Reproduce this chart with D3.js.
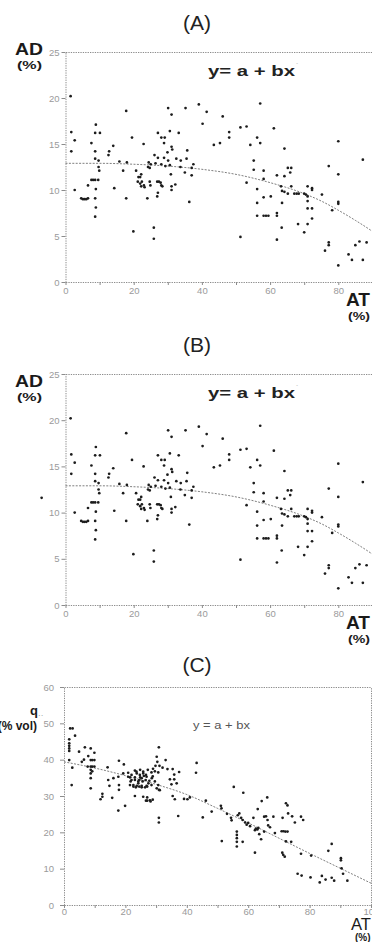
<!DOCTYPE html>
<html>
<head>
<meta charset="utf-8">
<script src="https://cdn.jsdelivr.net/npm/d3@7"></script>
<style>
  html, body { margin: 0; padding: 0; background: #fff; }
  body { width: 372px; height: 942px; overflow: hidden; }
  svg { display: block; font-family: "Liberation Sans", Arial, sans-serif; }
</style>
</head>
<body>
<svg id="chart" width="372" height="942"></svg>
<script>
// AT (%) vs AD (%) -- same cloud in panels A and B
const adPoints = [
  [1.5,20.2],[17.8,18.6],[30.1,18.9],[35.2,18.9],[39.1,19.3],[41.4,18.5],[31.1,18.2],
  [8.9,17.1],[8.7,16.2],[10.1,16.2],[1.7,16.3],[40.2,17.2],[27.1,16.2],[30.6,16.4],[33.2,16.2],
  [2.7,15.4],[7.6,15.1],[14.0,14.8],[19.5,15.7],[22.9,15.0],[28.1,15.7],[29.1,15.7],[28.9,15.1],[31.1,14.7],[31.3,14.4],[35.7,14.3],
  [1.7,14.2],[8.7,14.2],[12.8,14.2],[12.6,13.8],[26.1,13.8],[27.1,13.5],[28.9,13.5],[29.9,14.1],[32.5,13.4],[33.8,13.2],[35.5,13.4],[8.7,13.4],
  [9.7,13.2],[15.8,13.1],[18.0,13.0],[24.4,13.0],[24.2,12.5],[24.7,12.4],[25.0,12.8],[26.4,12.9],[28.1,12.8],[30.1,13.2],[29.3,12.6],[30.6,12.7],[37.5,12.8],[33.7,12.5],[37.0,12.4],
  [9.7,12.5],[9.9,12.1],[16.9,12.1],[20.7,12.1],[22.2,11.7],[35.0,11.9],[30.9,11.7],
  [7.6,11.1],[8.1,11.1],[8.7,11.1],[9.6,11.1],[6.6,10.5],[8.9,10.1],[14.3,10.2],[2.7,10.0],
  [21.4,11.4],[21.9,11.4],[22.4,10.9],[21.2,10.9],[21.9,10.7],[23.0,10.5],[22.2,10.4],[23.2,10.3],[24.7,10.9],[24.9,10.5],
  [26.9,10.9],[27.4,10.9],[27.9,10.8],[28.1,10.5],[28.4,10.4],[27.1,9.7],[26.9,9.3],[31.1,10.4],[31.1,10.0],[32.2,10.6],[37.0,11.6],
  [4.6,9.1],[5.1,9.0],[5.6,9.0],[6.1,9.0],[6.6,9.1],[8.7,9.1],[17.8,9.1],[24.0,9.1],[36.3,8.7],[8.9,8.1],[8.7,7.1],
  [19.9,5.5],[25.9,5.9],[25.9,4.7],
  [57.1,19.4],[46.1,18.0],[51.3,16.8],[53.1,16.9],[61.1,16.7],[48.0,16.3],[48.0,15.7],[56.2,15.7],[43.5,14.9],[45.3,15.1],
  [54.2,14.9],[57.1,15.1],[64.2,14.5],[80.0,15.3],[87.2,13.3],
  [55.2,13.2],[55.2,12.2],[58.1,12.1],[58.1,11.2],[62.0,11.6],[64.2,11.5],[65.2,12.4],[66.2,12.4],[65.9,11.9],[77.2,12.6],[80.0,11.7],
  [53.1,10.8],[56.2,10.1],[63.2,10.4],[63.5,9.9],[64.2,9.8],[65.2,9.6],[66.2,10.4],[67.1,9.6],[67.8,9.6],[68.4,9.6],[70.0,9.6],[70.5,9.5],
  [71.0,10.4],[72.3,10.2],[72.3,10.0],[71.0,9.3],[75.2,9.5],[60.2,9.3],[58.1,9.2],
  [56.2,8.6],[63.5,8.6],[71.0,8.8],[71.0,8.0],[72.3,8.0],[80.0,8.7],[80.0,8.5],[78.2,7.8],
  [56.2,7.2],[58.1,7.2],[58.8,7.2],[59.5,7.2],[62.0,7.5],[62.0,7.2],[72.3,6.9],[68.2,6.3],[71.0,6.3],[63.4,5.9],[70.0,5.4],[51.3,4.9],[62.0,4.6],
  [77.2,4.3],[77.2,4.0],[76.1,3.4],[83.0,3.0],[84.0,2.4],[85.0,4.0],[86.2,4.4],[88.3,4.3],[87.2,2.4],[80.0,1.8],[90.3,10.7],[90.3,10.0]
];
// the lone point left of the axis in panel B
const adExtraB = [[-7.0,11.6]];

// fitted y = a + bx^c
const fitAD = [[0,12.9],[10,12.9],[20,12.8],[30,12.6],[40,12.25],[50,11.7],[60,10.8],[70,9.6],[75,8.8],[80,7.8],[85,6.7],[90,5.5],[95,4.1],[100,2.6]];

// AT (%) vs q (% vol), panel C
const qPoints = [
  [2.0,48.6],[2.8,48.6],[1.7,45.6],[1.7,44.5],[1.7,43.8],[1.7,43.1],[1.7,42.4],[3.6,46.6],[1.7,39.9],[2.7,37.8],[2.5,33.0],
  [4.9,42.2],[6.8,43.4],[8.7,43.1],[9.9,41.9],[7.9,41.0],[6.5,40.0],[5.8,39.4],[8.7,39.9],[9.2,39.9],[9.9,39.9],
  [7.7,38.1],[8.7,38.1],[9.2,38.1],[9.9,38.1],[8.7,37.2],[8.7,36.2],[8.7,34.9],[9.2,36.8],[8.7,32.1],
  [14.2,37.9],[16.1,34.9],[14.4,34.4],[14.8,32.8],[12.5,30.6],[12.5,29.8],[11.9,29.1],[15.7,29.5],
  [17.9,39.7],[19.5,38.7],[17.7,35.3],[17.9,33.0],[17.9,31.7],[17.7,26.0],[19.9,27.3],
  [19.3,36.2],[20.9,36.4],[20.9,35.3],[21.5,35.1],[22.0,34.4],[21.7,34.0],[22.0,35.8],[23.1,37.0],[23.7,36.2],[23.1,35.1],[23.6,36.7],
  [24.8,37.2],[24.8,35.1],[24.5,34.4],[24.2,33.5],[24.7,35.8],[25.8,36.7],[26.0,35.5],[25.6,34.0],[25.8,36.2],[26.9,35.3],
  [23.1,34.4],[24.2,34.0],[25.3,34.9],[26.6,34.4],[27.5,33.5],[22.6,33.0],[21.5,33.0],[23.7,32.8],[25.3,32.8],[26.9,32.8],
  [22.6,32.6],[23.4,32.4],[24.5,32.6],[25.3,32.4],[26.4,32.4],[27.1,32.6],
  [27.8,34.2],[28.6,34.9],[28.9,35.4],[26.7,35.8],[27.3,37.2],[28.5,33.0],[29.6,34.0],[30.7,33.0],[30.2,32.1],[31.2,31.6],
  [28.5,36.5],[29.6,36.8],[30.7,36.5],[29.0,37.5],[29.8,38.3],
  [30.9,43.4],[30.2,40.8],[30.4,39.4],[33.1,39.9],[31.1,38.3],[32.1,37.8],[33.7,37.4],[35.4,37.4],[35.9,35.9],[34.5,34.6],[35.9,34.6],
  [35.0,33.2],[36.7,33.5],[37.5,36.6],
  [35.4,30.0],[36.1,29.1],[30.9,31.7],[27.1,29.6],[26.7,28.7],[27.1,28.7],[28.0,28.8],[28.9,29.0],[23.1,30.0],[25.8,29.8],[28.2,28.5],
  [30.9,24.0],[30.9,22.7],[37.2,24.5],[39.1,29.2],[40.2,29.1],[41.0,29.6],[43.2,39.1],[43.0,36.4],
  [46.2,28.7],[45.2,24.1],[48.1,25.7],[51.1,27.3],[51.3,26.6],[51.4,17.6],[53.1,25.1],[54.4,24.0],[54.6,23.3],[55.3,32.5],
  [56.3,20.2],[56.3,19.3],[56.3,18.4],[56.3,17.4],[56.3,16.1],[58.2,17.4],
  [58.4,30.9],[56.6,24.7],[57.1,25.2],[57.7,24.0],[58.2,23.4],[59.0,22.7],[59.5,22.1],[60.6,21.7],[60.0,22.6],[61.7,24.0],[63.1,26.4],
  [62.2,20.6],[62.5,21.0],[63.0,20.8],[63.3,21.2],[63.6,19.5],[64.2,18.1],[62.2,14.4],[65.2,20.2],
  [64.4,28.6],[66.2,29.6],[65.2,24.3],[65.8,24.4],[66.3,23.4],[66.5,21.9],[67.1,21.4],[68.2,24.3],[68.7,19.8],
  [71.2,24.0],[70.9,20.3],[71.5,20.3],[72.1,20.2],[72.8,20.2],[72.3,28.0],[72.8,27.4],[73.0,25.2],[74.3,24.4],
  [72.3,17.5],[71.1,14.4],[71.4,13.8],[71.9,13.3],[74.0,17.4],[75.2,22.7],[77.2,24.3],[77.9,23.4],
  [76.1,8.6],[77.4,8.1],[77.2,14.1],[80.5,13.6],[80.3,7.6],[83.3,6.2],[84.0,8.0],[85.2,7.0],
  [87.2,16.8],[86.1,14.9],[87.2,7.5],[88.0,6.7],[90.2,12.9],[90.2,12.3],[90.4,10.1],[90.9,8.6],[92.3,6.7]
];
const fitQ = [[0,39.4],[10,37.7],[20,35.6],[30,33.2],[40,30.4],[50,26.6],[60,22.6],[70,18.4],[80,14.2],[90,10.1],[100,6.0]];

// ticks
const atTicks = [0,10,20,30,40,50,60,70,80,90,100];
const adTicks = [0,5,10,15,20,25];
const qTicks = [0,10,20,30,40,50,60];

const svg = d3.select('#chart');

function styleAxis(sel) {
  sel.attr('font-family', '"Liberation Sans", Arial, sans-serif').attr('font-size', 9.5);
  sel.select('.domain').attr('stroke', '#8c8c8c').attr('stroke-dasharray', '1.3,1.1');
  sel.selectAll('.tick line').attr('stroke', '#8c8c8c');
  sel.selectAll('.tick text').attr('fill', '#9a9a9a');
}

function drawScatter(cfg) {
  const g = svg.append('g').attr('class', 'panel panel-' + cfg.id);
  const x = d3.scaleLinear().domain([0, 100]).range(cfg.xRange);
  const y = d3.scaleLinear().domain(cfg.yDomain).range(cfg.yRange);

  // frame: top and right sides without ticks
  g.append('g')
    .attr('transform', `translate(0,${y(cfg.yDomain[1])})`)
    .call(d3.axisTop(x).tickValues([]).tickSizeOuter(0))
    .call(styleAxis);
  g.append('g')
    .attr('transform', `translate(${x(100)},0)`)
    .call(d3.axisRight(y).tickValues([]).tickSizeOuter(0))
    .call(styleAxis);

  g.append('g')
    .attr('transform', `translate(0,${y(0)})`)
    .call(d3.axisBottom(x).tickValues(atTicks).tickSize(3).tickPadding(cfg.xPad).tickSizeOuter(0)
      .tickFormat(d => d % 20 === 0 ? d : ''))
    .call(styleAxis);
  g.append('g')
    .attr('transform', `translate(${x(0)},0)`)
    .call(d3.axisLeft(y).tickValues(cfg.yTicks).tickSize(4).tickPadding(cfg.yPad).tickSizeOuter(0))
    .call(styleAxis);

  // fitted curve
  const line = d3.line()
    .x(d => x(d[0]))
    .y(d => y(d[1]))
    .curve(d3.curveMonotoneX);
  g.append('path')
    .datum(cfg.fit)
    .attr('d', line)
    .attr('fill', 'none')
    .attr('stroke', '#707070')
    .attr('stroke-width', 0.9)
    .attr('stroke-dasharray', '2,1.4');

  g.selectAll('circle.pt')
    .data(cfg.points)
    .join('circle')
    .attr('class', 'pt')
    .attr('cx', d => x(d[0]))
    .attr('cy', d => y(d[1]))
    .attr('r', 1.35)
    .attr('fill', '#1c1c1c');

  return { x, y, g };
}

function addText(txt, px, py, opts = {}) {
  const t = svg.append('text')
    .attr('x', px)
    .attr('y', py)
    .attr('font-size', opts.size || 12)
    .attr('font-weight', opts.bold ? 'bold' : 'normal')
    .attr('fill', opts.fill || '#1a1a1a')
    .attr('text-anchor', opts.anchor || 'start')
    .text(txt);
  if (opts.len) t.attr('textLength', opts.len).attr('lengthAdjust', 'spacingAndGlyphs');
  return t;
}

// ---- panel A
drawScatter({ id: 'A', points: adPoints, fit: fitAD, xRange: [65.5, 406.5], yDomain: [0, 25], yRange: [282, 52],
  yTicks: adTicks, xPad: 2, yPad: 2 });
addText('(A)', 197, 30, { size: 21, anchor: 'middle', fill: '#222' });
addText('AD', 15, 55, { size: 17, bold: true, len: 28 });
addText('(%)', 17, 69, { size: 11.5, bold: true, len: 25 });
addText('y= a + bx', 208, 76, { size: 15, bold: true, len: 87, fill: '#222' });
addText('´', 296, 68, { size: 8, fill: '#aaa' });
addText('AT', 346, 306, { size: 18, bold: true, len: 24 });
addText('(%)', 348, 320, { size: 11.5, bold: true, len: 22 });

// ---- panel B
drawScatter({ id: 'B', points: adPoints.concat(adExtraB), fit: fitAD, xRange: [65.5, 406.5], yDomain: [0, 25], yRange: [605, 374],
  yTicks: adTicks, xPad: 2, yPad: 2 });
addText('(B)', 197, 352, { size: 21, anchor: 'middle', fill: '#222' });
addText('AD', 15, 387, { size: 17, bold: true, len: 28 });
addText('(%)', 17, 401, { size: 11.5, bold: true, len: 25 });
addText('y= a + bx', 208, 398, { size: 15, bold: true, len: 87, fill: '#222' });
addText('´', 296, 390, { size: 8, fill: '#aaa' });
addText('AT', 346, 629, { size: 18, bold: true, len: 24 });
addText('(%)', 348, 643, { size: 11.5, bold: true, len: 22 });

// ---- panel C
drawScatter({ id: 'C', points: qPoints, fit: fitQ, xRange: [64, 371], yDomain: [0, 60], yRange: [905, 687],
  yTicks: qTicks, xPad: 0, yPad: 6 });
addText('(C)', 197, 672, { size: 21, anchor: 'middle', fill: '#222' });
addText('q', 30, 715, { size: 13, bold: true });
addText('··', 38, 718, { size: 8, fill: '#888' });
addText('(% vol)', 37, 730, { size: 12, bold: true, anchor: 'end' });
addText('y = a + bx', 193, 729, { size: 10.5, len: 57, fill: '#555' });
addText('AT', 351, 930, { size: 16, len: 20 });
addText('(%)', 355, 941, { size: 10, bold: true });
</script>
</body>
</html>
